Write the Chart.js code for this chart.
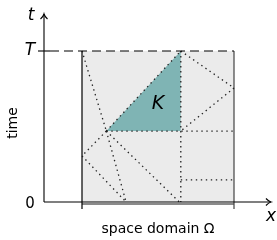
<!DOCTYPE html>
<html>
<head>
<meta charset="utf-8">
<script src="https://cdn.jsdelivr.net/npm/chart.js@4"></script>
<style>
  html, body { margin:0; padding:0; background:#fff; }
  #c { display:block; }
</style>
</head>
<body>
<canvas id="c" width="277" height="240"></canvas>
<script>
// space-time domain, x in [0,1], t in [0,T] with T = 1
const domainX = [0, 1];
const timeT = [0, 1];
const tickLabels = ['0', 'T'];
const axisTitles = ['space domain Ω', 'time'];

// element K (triangle): hypotenuse points + base level
const elementK = [[0.16, 0.47], [0.65, 1]];
const elementBase = 0.47;

// dotted mesh edges
const meshLines = [
  [[0, 1], [0.16, 0.47]],
  [[0.16, 0.47], [0.65, 1]],
  [[0.65, 1], [1, 0.755]],
  [[1, 0.755], [0.65, 0.47]],
  [[0.65, 1], [0.65, 0]],
  [[0.16, 0.47], [1, 0.47]],
  [[0.65, 0.146], [1, 0.146]],
  [[0.16, 0.47], [0, 0.305]],
  [[0, 0.305], [0.29, 0]],
  [[0.16, 0.47], [0.29, 0]],
  [[0.16, 0.47], [0.64, 0]]
];

// where the box sits on the 277x240 canvas (px)
const box = { left: 82, right: 234, top: 51, bottom: 202, w: 277, h: 240 };
const sx = box.right - box.left, sy = box.bottom - box.top;

function pts(a){ return a.map(p => ({ x: p[0], y: p[1] })); }

const datasets = [];
meshLines.forEach(seg => datasets.push({
  data: pts(seg), borderColor: '#222', borderWidth: 1.3, borderDash: [1.4, 3.6],
  pointRadius: 0, fill: false, order: 0
}));
// box side lines
datasets.push({ data: pts([[domainX[0], timeT[1]], [domainX[0], -0.046]]), borderColor: '#000', borderWidth: 1.2, pointRadius: 0, order: 0 });
datasets.push({ data: pts([[domainX[1], timeT[1]], [domainX[1], -0.046]]), borderColor: '#444', borderWidth: 1.2, pointRadius: 0, order: 0 });
// omega boundary bar
datasets.push({ data: pts([[domainX[0], -0.014], [domainX[1], -0.014]]), borderColor: '#8a8a8a', borderWidth: 2, pointRadius: 0, order: 0 });
// element K
datasets.push({ data: pts(elementK), borderColor: 'rgba(0,0,0,0)', borderWidth: 0, backgroundColor: '#7fb4b4',
  fill: { value: elementBase }, pointRadius: 0, order: 1 });
// gray space-time box
datasets.push({ data: pts([[domainX[0], timeT[1]], [domainX[1], timeT[1]]]), borderColor: 'rgba(0,0,0,0)', borderWidth: 0,
  backgroundColor: '#ebebeb', fill: { value: timeT[0] }, pointRadius: 0, order: 2 });

function arrow(ctx, x, y, dir){
  ctx.beginPath();
  if (dir === 'up'){ ctx.moveTo(x-3.5, y+5); ctx.quadraticCurveTo(x-0.5, y+2, x, y); ctx.quadraticCurveTo(x+0.5, y+2, x+3.5, y+5); }
  else { ctx.moveTo(x-5, y-3.5); ctx.quadraticCurveTo(x-2, y-0.5, x, y); ctx.quadraticCurveTo(x-2, y+0.5, x-5, y+3.5); }
  ctx.stroke();
}

const axesPlugin = {
  id: 'axes',
  afterDatasetsDraw(chart){
    const ctx = chart.ctx, X = chart.scales.x, Y = chart.scales.y;
    const ax = X.getPixelForValue(-0.25), ay = Y.getPixelForValue(timeT[0]);
    const tTop = Y.getPixelForValue(1.245), xEnd = X.getPixelForValue(1.243);
    const yT = Y.getPixelForValue(timeT[1]);
    ctx.save();
    ctx.strokeStyle = '#000'; ctx.lineWidth = 1.1;
    // time axis
    ctx.beginPath(); ctx.moveTo(ax, ay); ctx.lineTo(ax, tTop); ctx.stroke();
    arrow(ctx, ax, tTop, 'up');
    // space axis
    ctx.beginPath(); ctx.moveTo(ax, ay); ctx.lineTo(xEnd, ay); ctx.stroke();
    arrow(ctx, xEnd, ay, 'right');
    // tick at T + dashed line
    ctx.beginPath(); ctx.moveTo(ax - 6, yT); ctx.lineTo(ax + 6, yT); ctx.stroke();
    ctx.setLineDash([9, 5]); ctx.lineDashOffset = 0;
    ctx.beginPath(); ctx.moveTo(ax + 6, yT); ctx.lineTo(X.getPixelForValue(domainX[1]), yT); ctx.stroke();
    ctx.setLineDash([]);
    // labels
    ctx.fillStyle = '#000'; ctx.textAlign = 'center'; ctx.textBaseline = 'middle';
    ctx.font = 'italic 17px "DejaVu Sans"';
    ctx.fillText(tickLabels[1], ax - 14, yT);
    ctx.fillText('t', ax - 13, 16);
    ctx.fillText('x', xEnd, ay + 15);
    ctx.font = 'italic 19px "DejaVu Sans"';
    ctx.fillText('K', X.getPixelForValue(0.5), Y.getPixelForValue(0.65));
    ctx.font = '15px "DejaVu Sans"';
    ctx.fillText(tickLabels[0], ax - 14, ay + 2);
    ctx.font = '14px "DejaVu Sans"';
    ctx.fillText(axisTitles[0], X.getPixelForValue(0.5), 229);
    ctx.translate(13, 123); ctx.rotate(-Math.PI / 2);
    ctx.fillText(axisTitles[1], 0, 0);
    ctx.restore();
  }
};

new Chart(document.getElementById('c'), {
  type: 'line',
  data: { datasets },
  options: {
    responsive: false, animation: false,
    layout: { padding: 0 },
    plugins: { legend: { display: false }, tooltip: { enabled: false } },
    scales: {
      x: { type: 'linear', display: false, min: -box.left / sx, max: (box.w - box.left) / sx },
      y: { type: 'linear', display: false, min: -(box.h - box.bottom) / sy, max: box.bottom / sy }
    }
  },
  plugins: [axesPlugin]
});
</script>
</body>
</html>
